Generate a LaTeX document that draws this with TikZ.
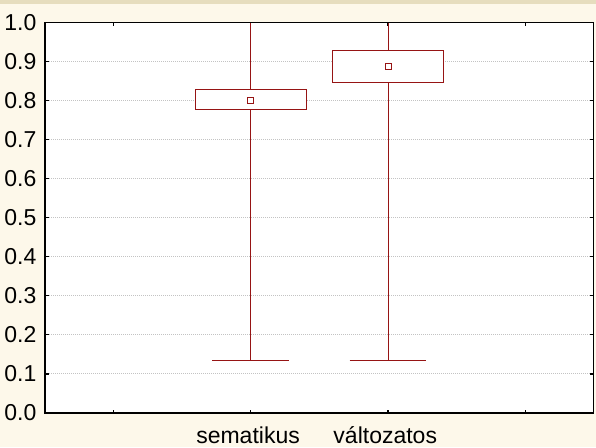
\documentclass[tikz,border=0pt]{standalone}
\usepackage{fontspec}
\setmainfont{Liberation Sans}
\usetikzlibrary{positioning}

\definecolor{cream}{RGB}{253,248,234}
\definecolor{sand}{RGB}{230,221,190}
\definecolor{boxred}{RGB}{150,20,20}
\definecolor{gridgray}{RGB}{195,195,195}

\begin{document}
\begin{tikzpicture}[x=1pt, y=1pt,
    frameline/.style={draw=black, line width=1.2pt},
    gridline/.style={draw=gridgray, line width=1pt, dash pattern=on 1pt off 1pt},
    tickline/.style={draw=black, line width=1.2pt},
    boxline/.style={draw=boxred, line width=1pt},
    labeltext/.style={font=\fontsize{23}{23}\selectfont, inner sep=0pt},
]
    % Background and top band
    \fill[cream] (0,0) rectangle (596,447);
    \fill[sand] (0,443) rectangle (596,447);
    \useasboundingbox (0,0) rectangle (596,447);

    % Plot area in data units: x from 0 to 4, y from 0 to 1
    \begin{scope}[shift={(45,34)}, x=137.2pt, y=390.7pt]
        \fill[white] (0,0) rectangle (4,1);
        % Grid lines
        \foreach \i in {1,...,9} {
            \draw[gridline] (0,\i/10) -- (4,\i/10);
        }
        % Ticks on all four sides
        \foreach \i in {1,...,9} {
            \draw[tickline] (0,\i/10) -- ++(3.5pt,0);
            \draw[tickline] (4,\i/10) -- ++(-3.5pt,0);
        }
        \foreach \x in {0.5,1.5,2.5,3.5} {
            \draw[tickline] (\x,0) -- ++(0,3.5pt);
            \draw[tickline] (\x,1) -- ++(0,-3.5pt);
        }
        % Whiskers, caps and boxes
        \foreach \x/\lo/\hi/\mean in {1.5/0.777/0.829/0.800, 2.5/0.846/0.929/0.887} {
            \draw[boxline] (\x,0.135) -- (\x,\lo);
            \draw[boxline] (\x,\hi) -- (\x,1);
            \draw[boxline] (\x-0.28,0.135) -- (\x+0.28,0.135);
            \draw[boxline, fill=white] (\x-0.404,\lo) rectangle (\x+0.404,\hi);
            \draw[boxline] ([xshift=-3pt,yshift=-3pt]\x,\mean) rectangle ([xshift=3pt,yshift=3pt]\x,\mean);
        }
        % Frame
        \draw[frameline] (0,0) rectangle (4,1);
        % Axis labels
        \foreach \i in {0,...,9} {
            \node[labeltext, anchor=east] (ylab\i) at ([xshift=-8.5pt]0,\i/10) {0.\i};
        }
        \node[labeltext, anchor=east] (ylab10) at ([xshift=-8.5pt]0,1) {1.0};
        \node[labeltext, anchor=base] (xlab1) at ([yshift=-30.5pt]1.48,0) {sematikus};
        \node[labeltext, anchor=base] (xlab2) at ([yshift=-30.5pt]2.48,0) {változatos};
    \end{scope}
\end{tikzpicture}
\end{document}
